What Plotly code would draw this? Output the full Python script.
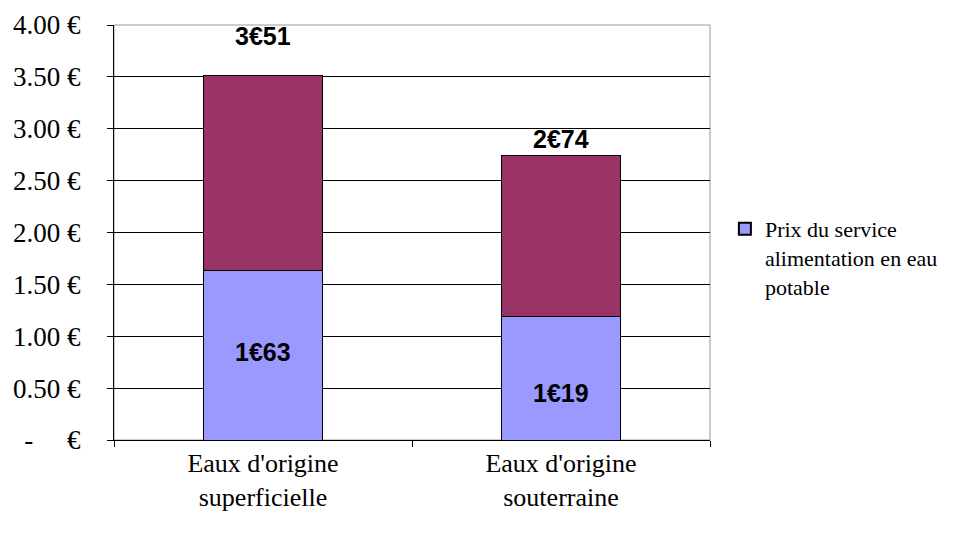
import plotly.graph_objects as go

categories = ["Eaux d'origine<br>superficielle", "Eaux d'origine<br>souterraine"]
prix_aep = [1.63, 1.19]
prix_total = [3.51, 2.74]
prix_reste = [round(t - a, 2) for t, a in zip(prix_total, prix_aep)]
label_aep = ["1€63", "1€19"]
label_total = ["3€51", "2€74"]
tick_vals = [0, 0.5, 1, 1.5, 2, 2.5, 3, 3.5, 4]
tick_text = ["-     €", "0.50 €", "1.00 €", "1.50 €", "2.00 €", "2.50 €", "3.00 €", "3.50 €", "4.00 €"]
legend_name = "Prix du service<br>alimentation en eau<br>potable"

fig = go.Figure()
fig.add_trace(go.Bar(x=categories, y=prix_aep, name=legend_name,
                     marker=dict(color="#9999FF", line=dict(color="black", width=1)),
                     width=0.4, showlegend=True, hoverinfo="skip"))
fig.add_trace(go.Bar(x=categories, y=prix_reste, name="",
                     marker=dict(color="#993366", line=dict(color="black", width=1)),
                     width=0.4, showlegend=False, hoverinfo="skip"))

lbl_font = dict(family="Liberation Sans, Arial", size=25, color="black")
aep_shift = [3, -15]
tot_shift = [40, 17]
for i, c in enumerate(categories):
    fig.add_annotation(x=c, y=prix_aep[i] / 2, text="<b>" + label_aep[i] + "</b>",
                       showarrow=False, font=lbl_font, yshift=aep_shift[i])
    fig.add_annotation(x=c, y=prix_total[i], text="<b>" + label_total[i] + "</b>",
                       showarrow=False, font=lbl_font, yshift=tot_shift[i])

fig.add_shape(type="rect", xref="paper", yref="paper", x0=0, y0=0, x1=1, y1=1,
              line=dict(color="#999999", width=1), layer="below")

# page has an 8px body margin: figure is offset by 8px, sizes compensated
fig.update_layout(
    width=948, height=525,
    margin=dict(l=106, r=246, t=17, b=93, autoexpand=False),
    paper_bgcolor="white", plot_bgcolor="white",
    barmode="stack",
    font=dict(family="Liberation Serif, Times New Roman", size=26, color="black"),
    legend=dict(x=1.025, y=0.559, xanchor="left", yanchor="top", valign="top",
                font=dict(family="Liberation Serif, Times New Roman", size=22),
                itemsizing="constant", bgcolor="rgba(0,0,0,0)"),
    xaxis=dict(showline=True, linecolor="black", linewidth=1, ticks="outside",
               tickson="boundaries", ticklen=6, tickcolor="black", showgrid=False,
               tickfont=dict(size=26), automargin=False),
    yaxis=dict(range=[0, 4], tickvals=tick_vals, ticktext=tick_text, showline=True,
               linecolor="black", linewidth=1, ticks="outside", ticklen=6, tickcolor="black",
               showgrid=True, gridcolor="black", gridwidth=1, zeroline=False,
               tickfont=dict(size=27), automargin=False, ticklabelstandoff=21),
)

fig.write_html("out.html")
